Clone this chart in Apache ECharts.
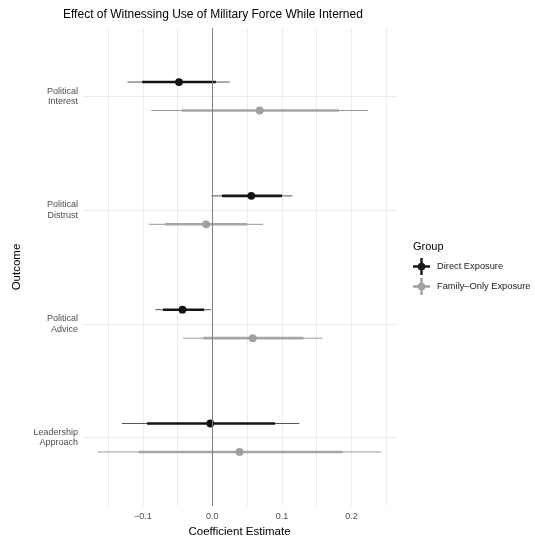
<!DOCTYPE html>
<html>
<head>
<meta charset="utf-8">
<script src="https://cdn.jsdelivr.net/npm/echarts@6/dist/echarts.min.js"></script>
<style>html,body{margin:0;padding:0;background:#fff}#c{width:535px;height:541px}</style>
</head>
<body>
<div id="c"></div>
<script>
const categories = ['Political\nInterest', 'Political\nDistrust', 'Political\nAdvice', 'Leadership\nApproach'];
const groups = ['Direct Exposure', 'Family\u2013Only Exposure'];
const xTickLabels = [-0.1, 0.0, 0.1, 0.2];
const xGridValues = [-0.15, -0.1, -0.05, 0, 0.05, 0.1, 0.15, 0.2, 0.25];

const directEst  = [-0.048, 0.056, -0.043, -0.003];
const directLo90 = [-0.101, 0.014, -0.071, -0.094];
const directHi90 = [0.005, 0.100, -0.012, 0.090];
const directLo95 = [-0.122, -0.001, -0.082, -0.130];
const directHi95 = [0.025, 0.115, -0.002, 0.125];

const familyEst  = [0.068, -0.009, 0.058, 0.039];
const familyLo90 = [-0.044, -0.068, -0.013, -0.106];
const familyHi90 = [0.182, 0.050, 0.131, 0.187];
const familyLo95 = [-0.088, -0.091, -0.042, -0.165];
const familyHi95 = [0.224, 0.073, 0.158, 0.243];

const dodge = 0.125;

function rows(est, lo90, hi90, lo95, hi95, off) {
  return categories.map((c, i) => [est[i], i + 1 + off, lo90[i], hi90[i], lo95[i], hi95[i]]);
}

function makeRender(thinColor, thickColor, ptColor) {
  return function (params, api) {
    const y = api.value(1);
    const p = api.coord([api.value(0), y]);
    const a90 = api.coord([api.value(2), y]);
    const b90 = api.coord([api.value(3), y]);
    const a95 = api.coord([api.value(4), y]);
    const b95 = api.coord([api.value(5), y]);
    return {
      type: 'group',
      children: [
        { type: 'line', shape: { x1: a95[0], y1: a95[1], x2: b95[0], y2: b95[1] }, style: { stroke: thinColor, lineWidth: 1 } },
        { type: 'line', shape: { x1: a90[0], y1: a90[1], x2: b90[0], y2: b90[1] }, style: { stroke: thickColor, lineWidth: 2.6 } },
        { type: 'circle', shape: { cx: p[0], cy: p[1], r: 3.9 }, style: { fill: ptColor } }
      ]
    };
  };
}

// union outline of a cross with a dot in its centre
const legendIcon = 'path://M7.3,0L9.7,0L9.7,4.68A4,4 0 0,1 12.32,7.3L17,7.3L17,9.7L12.32,9.7A4,4 0 0,1 9.7,12.32L9.7,17L7.3,17L7.3,12.32A4,4 0 0,1 4.68,9.7L0,9.7L0,7.3L4.68,7.3A4,4 0 0,1 7.3,4.68Z';

const chart = echarts.init(document.getElementById('c'), null, { renderer: 'canvas' });
chart.setOption({
  animation: false,
  backgroundColor: '#ffffff',
  textStyle: { fontFamily: 'Liberation Sans, Arial, sans-serif' },
  title: [
    { text: 'Effect of Witnessing Use of Military Force While Interned', left: 58, top: 4,
      textStyle: { fontSize: 12, fontWeight: 'normal', color: '#000', fontFamily: 'Liberation Sans' } },
    { text: 'Group', left: 408, top: 236,
      textStyle: { fontSize: 11, fontWeight: 'normal', color: '#000', fontFamily: 'Liberation Sans' } }
  ],
  legend: {
    orient: 'vertical', left: 408, top: 253, itemWidth: 17, itemHeight: 17, itemGap: 3,
    icon: legendIcon,
    textStyle: { fontSize: 9.3, color: '#1a1a1a', fontFamily: 'Liberation Sans', padding: [0, 0, 0, 2] },
    data: groups
  },
  grid: { left: 83, right: 139, top: 28, bottom: 35, containLabel: false, outerBoundsMode: 'none' },
  xAxis: {
    type: 'value', min: -0.186, max: 0.264,
    name: 'Coefficient Estimate', nameLocation: 'middle', nameGap: 11,
    nameTextStyle: { fontSize: 11.5, color: '#000', fontFamily: 'Liberation Sans' },
    axisLine: { show: false }, axisTick: { show: false, customValues: xGridValues },
    axisLabel: { customValues: xTickLabels, fontSize: 9, color: '#4d4d4d', margin: 6,
      formatter: v => (v < 0 ? '\u2212' : '') + Math.abs(v).toFixed(1) },
    splitLine: { show: true, lineStyle: { color: '#ebebeb', width: 1 } }
  },
  yAxis: {
    type: 'value', inverse: true, min: 0.4, max: 4.6,
    name: 'Outcome', nameLocation: 'middle', nameGap: 58, nameRotate: 90,
    nameTextStyle: { fontSize: 11.5, color: '#000', fontFamily: 'Liberation Sans' },
    axisLine: { show: false }, axisTick: { show: false, customValues: [1, 2, 3, 4] },
    axisLabel: { customValues: [1, 2, 3, 4], fontSize: 9, color: '#4d4d4d', margin: 5, lineHeight: 10.5, align: 'right',
      formatter: v => categories[Math.round(v) - 1] || '' },
    splitLine: { show: true, lineStyle: { color: '#ebebeb', width: 1 } }
  },
  series: [
    {
      name: groups[0], type: 'custom', color: '#1a1a1a',
      encode: { x: [0, 2, 3, 4, 5], y: 1 },
      renderItem: makeRender('#555555', '#141414', '#141414'),
      data: rows(directEst, directLo90, directHi90, directLo95, directHi95, -dodge),
      markLine: { silent: true, symbol: 'none', label: { show: false },
        lineStyle: { color: '#808080', width: 1, type: 'solid' }, data: [{ xAxis: 0 }] },
      z: 3
    },
    {
      name: groups[1], type: 'custom', color: '#a0a0a0',
      encode: { x: [0, 2, 3, 4, 5], y: 1 },
      renderItem: makeRender('#999999', '#a6a6a6', '#a0a0a0'),
      data: rows(familyEst, familyLo90, familyHi90, familyLo95, familyHi95, dodge),
      z: 3
    }
  ]
});
</script>
</body>
</html>
